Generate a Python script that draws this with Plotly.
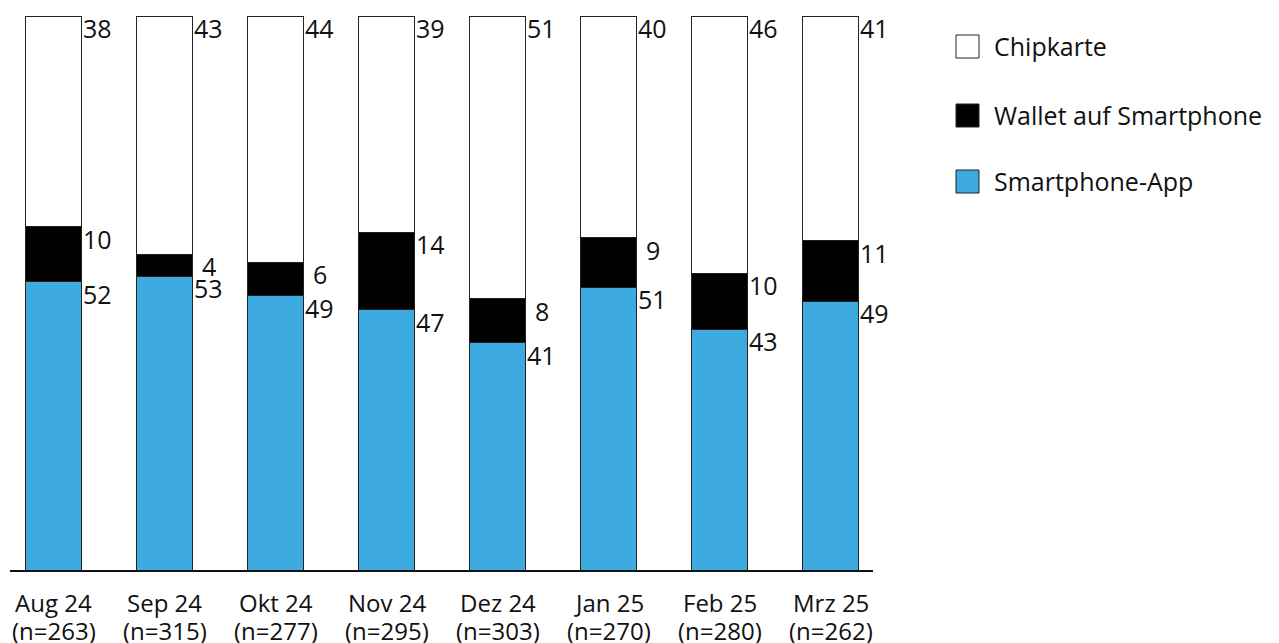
import plotly.graph_objects as go

months = ["Aug 24", "Sep 24", "Okt 24", "Nov 24", "Dez 24", "Jan 25", "Feb 25", "Mrz 25"]
sample_n = [263, 315, 277, 295, 303, 270, 280, 262]
smartphone_app = [52, 53, 49, 47, 41, 51, 43, 49]
wallet = [10, 4, 6, 14, 8, 9, 10, 11]
chipkarte = [38, 43, 44, 39, 51, 40, 46, 41]

series = [
    ("Smartphone-App", smartphone_app, "#3DAAE0"),
    ("Wallet auf Smartphone", wallet, "#000000"),
    ("Chipkarte", chipkarte, "#FFFFFF"),
]

FONT = "Open Sans"
TXT = "#111111"
W, H = 1279, 643
ML, MR, MT, MB = 10, 406, 16, 73
PW, PH = W - ML - MR, H - MT - MB

x = list(range(len(months)))
fig = go.Figure()
for name, vals, color in series:
    fig.add_trace(go.Bar(
        x=x, y=vals, name=name, width=0.5,
        marker=dict(color=color, line=dict(color="#222222", width=1)),
        showlegend=False, hoverinfo="skip",
    ))

# each column is normalised to 100 %; labels sit right of each segment's upper edge
annotations = []
for i in x:
    total = sum(vals[i] for _, vals, _ in series)
    base = 0.0
    for name, vals, color in series:
        top = base + vals[i] * 100.0 / total
        annotations.append(dict(
            x=i, y=top, xref="x", yref="y", text=str(vals[i]),
            showarrow=False, xanchor="center", yanchor="middle",
            xshift=44, yshift=-12,
            font=dict(family=FONT, size=25, color=TXT),
        ))
        base = top

# two-line category labels below the axis
for i, (m, n) in enumerate(zip(months, sample_n)):
    for txt, shift in ((m, -32), (f"(n={n})", -60)):
        annotations.append(dict(
            x=i, y=0, xref="x", yref="paper", text=txt, showarrow=False,
            xanchor="center", yanchor="middle", yshift=shift,
            font=dict(family=FONT, size=24, color=TXT),
        ))

# legend drawn in paper coordinates
def px_x(p):
    return (p - ML) / PW

def px_y(p):
    return (H - MB - p) / PH

shapes = []
legend_items = [("Chipkarte", "#FFFFFF", 35), ("Wallet auf Smartphone", "#000000", 104),
                ("Smartphone-App", "#3DAAE0", 170)]
for label, color, top in legend_items:
    shapes.append(dict(type="rect", xref="paper", yref="paper",
                       x0=px_x(956), x1=px_x(979), y0=px_y(top + 23), y1=px_y(top),
                       fillcolor=color, line=dict(color="#222222", width=1)))
    annotations.append(dict(x=px_x(992), y=px_y(top + 11), xref="paper", yref="paper",
                            text=label, showarrow=False, xanchor="left", yanchor="middle",
                            font=dict(family=FONT, size=25, color=TXT)))

fig.update_layout(
    barmode="stack",
    barnorm="percent",
    width=W, height=H,
    margin=dict(l=ML, r=MR, t=MT, b=MB, pad=0),
    plot_bgcolor="white", paper_bgcolor="white",
    xaxis=dict(
        range=[(ML - 53.5) / 111, (ML + PW - 53.5) / 111],
        showticklabels=False,
        showline=True, linecolor=TXT, linewidth=1.5,
        showgrid=False, zeroline=False, ticks="", fixedrange=True,
    ),
    yaxis=dict(range=[0, 100], visible=False, fixedrange=True),
    shapes=shapes,
    annotations=annotations,
)

fig.write_html("out.html")
